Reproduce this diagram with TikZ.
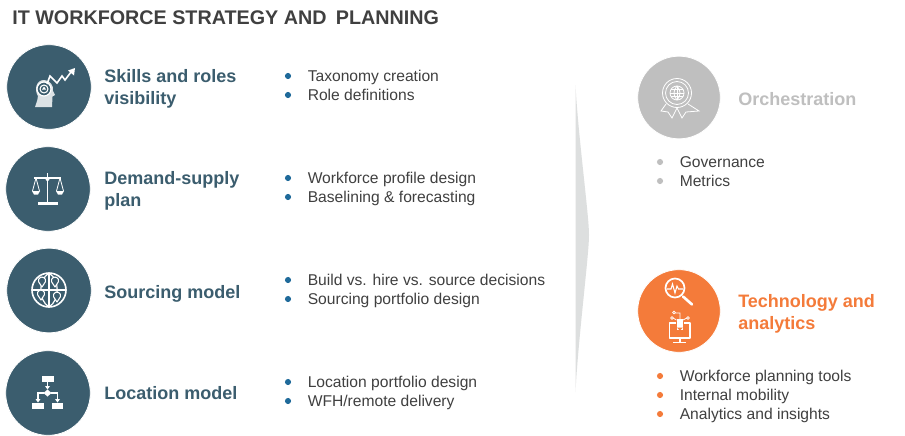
\documentclass[tikz,border=0pt]{standalone}
\usepackage{fontspec}
\setmainfont{Liberation Sans}
\definecolor{teal}{HTML}{3B5D6E}
\definecolor{orng}{HTML}{F47B3A}
\definecolor{gry}{HTML}{BFBFBF}
\definecolor{txt}{HTML}{404040}
\definecolor{blt}{HTML}{1F6A9A}
\definecolor{wedge}{HTML}{DDDFDF}
\tikzset{
  x=0.75pt,y=-0.75pt,
  disc/.style={circle,minimum size=63.5pt,inner sep=0pt,draw=white,line width=0.6pt},
  discr/.style={disc,minimum size=62pt},
  head/.style={anchor=west,align=left,font=\fontsize{13.5}{16.4}\selectfont\bfseries,inner sep=0pt},
  body/.style={anchor=base west,inner sep=0pt,text=txt,font=\fontsize{11.72}{13}\selectfont},
  dot/.style={circle,minimum size=4.6pt,inner sep=0pt},
  ico/.style={draw=white,line width=0.9pt,line join=round},
  pin/.style={draw=white,fill=teal,line width=0.8pt,line join=round},
}
\begin{document}
\begin{tikzpicture}
\useasboundingbox (0,0) rectangle (905,435);
\fill[white] (0,0) rectangle (905,435);
\node[anchor=base west,inner sep=0pt,text=txt,font=\fontsize{14.8}{18}\selectfont\bfseries] (title) at (12,25) {IT WORKFORCE STRATEGY AND\hspace{3pt} PLANNING};

% wedge
\fill[wedge] (575.5,85) .. controls (578,135) and (589,215) .. (589,235) .. controls (589,255) and (578,340) .. (575.5,392) -- cycle;

% discs
\node[disc,fill=teal] (d1) at (49,87) {};
\node[disc,fill=teal] (d2) at (48,189) {};
\node[disc,fill=teal] (d3) at (49,290.5) {};
\node[disc,fill=teal] (d4) at (48,393) {};
\node[discr,fill=gry] (d5) at (679,97.5) {};
\node[discr,fill=orng] (d6) at (679,311) {};

% headings
\node[head,text=teal] (h1) at (104,88.5) {Skills and roles\\visibility};
\node[head,text=teal] (h2) at (104,190.5) {Demand-supply\\plan};
\node[head,text=teal] (h3) at (104,294) {Sourcing model};
\node[head,text=teal] (h4) at (104,393) {Location model};
\node[head,text=gry] (h5) at (738,99) {Orchestration};
\node[head,text=orng] (h6) at (738,314) {Technology and\\analytics};

% left bullets and items
\foreach \nm/\yy/\tx in {a/76/{Taxonomy creation},b/95/{Role definitions},c/178/{Workforce profile design},d/197/{Baselining \& forecasting},e/280/{Build vs. hire vs. source decisions},f/299/{Sourcing portfolio design},g/382/{Location portfolio design},h/401/{WFH/remote delivery}}{
  \node[dot,fill=blt] (bl\nm) at (288,\yy) {};
  \node[body] (tx\nm) at (307.5,\yy+5.5) {\tx};
}
% right bullets and items
\foreach \nm/\yy/\tx in {i/162/{Governance},j/181/{Metrics}}{
  \node[dot,fill=gry] (bl\nm) at (660,\yy) {};
  \node[body] (tx\nm) at (679.5,\yy+5.5) {\tx};
}
\foreach \nm/\yy/\tx in {k/376/{Workforce planning tools},l/395/{Internal mobility},m/414/{Analytics and insights}}{
  \node[dot,fill=orng] (bl\nm) at (660,\yy) {};
  \node[body] (tx\nm) at (679.5,\yy+5.5) {\tx};
}

% icon 1: head with target and rising arrow
\fill[white!82!teal] (35,107) .. controls (37,101) and (38,99) .. (38,96) .. controls (34,90) and (36,80) .. (44,80) .. controls (50,80) and (54,86) .. (53,91) -- (55,95) -- (52.5,96.5) -- (52,107) -- cycle;
\draw[ico,fill=teal] (44,89) circle (7);
\draw[ico,line width=0.8pt] (44,89) circle (4);
\fill[white] (44,86.5) -- (46,89.5) -- (42,89.5) -- cycle;
\draw[white,line width=1.2pt,line join=miter] (47,84) -- (50,76) -- (57,83) -- (62,76) -- (65,80) -- (71,72);
\fill[white] (75,68) -- (74,75.5) -- (68,70.5) -- cycle;

% icon 2: scales
\draw[ico,line width=1.3pt] (47.5,173) -- (47.5,202);
\draw[ico,line width=1.1pt] (34,178) -- (61,178);
\fill[white] (38,202) rectangle (58,205);
\fill[white] (47.5,179) circle (2);
\draw[ico,line width=0.6pt] (36,178) -- (32.5,191) (36,178) -- (39.5,191) (60,178) -- (56.5,191) (60,178) -- (63.5,191);
\fill[white] (32,191) -- (40,191) -- (38,194.5) -- (34,194.5) -- cycle;
\fill[white] (56,191) -- (64,191) -- (62,194.5) -- (58,194.5) -- cycle;

% icon 3: globe with pins
\draw[ico,line width=1.2pt] (49,290) circle (17);
\draw[ico] (49,273) -- (49,307) (32,290) -- (66,290);
\draw[ico] (49,273) .. controls (38,280) and (38,300) .. (49,307);
\draw[ico] (49,273) .. controls (60,280) and (60,300) .. (49,307);
\foreach \pn/\px/\py in {p/42/287,q/55/287,r/41/300,s/57/302}{
  \coordinate (\pn) at (\px,\py);
  \draw[pin] (\pn) -- ++(-3.4,-5.2) arc (160:380:3.6) -- cycle;
}

% icon 4: flowchart
\fill[white] (42,376) rectangle (54,382);
\fill[white] (32,403) rectangle (44,409);
\fill[white] (52,403) rectangle (63,409);
\fill[white] (47.5,389.5) -- (51.5,393) -- (47.5,396.5) -- (43.5,393) -- cycle;
\draw[white,line width=0.8pt] (47.5,382) -- (47.5,387);
\fill[white] (45,386) -- (50,386) -- (47.5,389.5) -- cycle;
\draw[white,line width=0.8pt] (44,393) -- (38,393) -- (38,399);
\draw[white,line width=0.8pt] (51,393) -- (57.5,393) -- (57.5,399);
\fill[white] (35.5,399) -- (40.5,399) -- (38,402.5) -- cycle;
\fill[white] (55,399) -- (60,399) -- (57.5,402.5) -- cycle;

% icon 5: medal with globe
\begin{scope}[every path/.style={draw=white,line width=0.6pt}]
\draw (677,93) circle (14.5);
\draw (677,93) circle (11.5);
\draw (677,93) circle (7);
\draw (670,93) -- (684,93) (677,86) -- (677,100) (671,89.5) -- (683,89.5) (671,96.5) -- (683,96.5);
\draw (677,86) .. controls (673,90) and (673,96) .. (677,100);
\draw (677,86) .. controls (681,90) and (681,96) .. (677,100);
\draw (666,104) -- (661,111) -- (668,112) -- (672,118) -- (677,108) -- (682,118) -- (686,112) -- (699,111) -- (688,104);
\end{scope}

% icon 6: magnifier and monitor
\draw[ico,line width=1.3pt] (675,288) circle (9.5);
\draw[white,line width=0.8pt] (667,289) -- (671,289) -- (672.5,284) -- (675,293) -- (677,286) -- (678.5,289) -- (683,289);
\draw[white,line width=2pt,line cap=round] (683,296.5) -- (692,304.5);
\draw[ico] (676,323) -- (669.5,323) -- (669.5,338) -- (690,338) -- (690,323) -- (684,323);
\draw[white,line width=1pt] (680,338) -- (680,342);
\fill[white] (673,341.5) rectangle (686,343);
\fill[white] (676.5,319) rectangle (683,330);
\fill[orng] (679.7,330.5) -- (677,327.5) -- (683,327.5) -- cycle;
\draw[white,line width=0.6pt] (673,318) -- (676.5,320) (687,318) -- (683,320) (680,319) -- (680,313) -- (675,313);
\draw[white,line width=0.6pt] (672,318) circle (1.4) (688,318) circle (1.4) (674,312.5) circle (1.4);
\end{tikzpicture}
\end{document}
